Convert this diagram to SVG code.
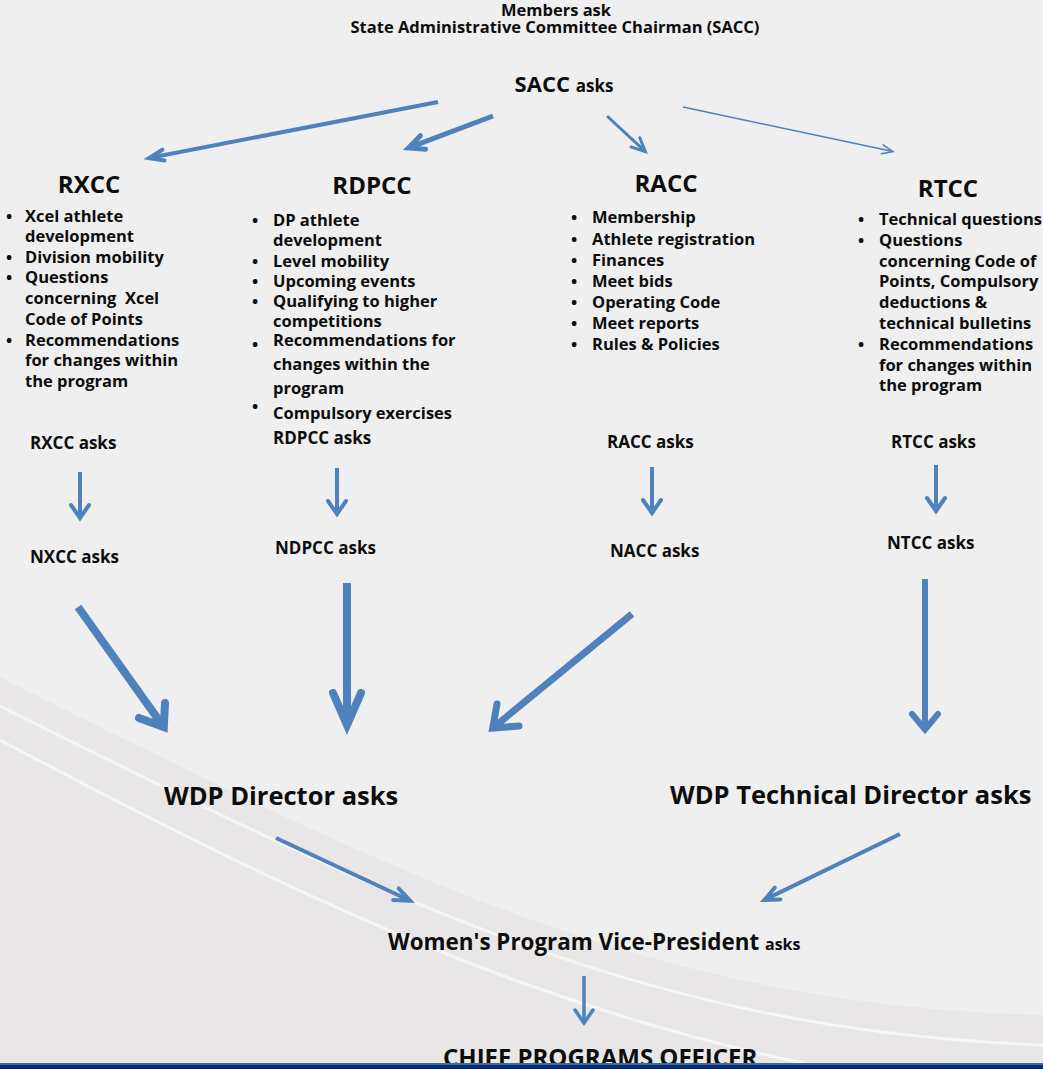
<svg xmlns="http://www.w3.org/2000/svg" width="1043" height="1069" viewBox="0 0 1043 1069">
<style>
text{font-family:"Open Sans","Liberation Sans",sans-serif;font-weight:700;fill:#0d0d0d}
.t{font-size:16.5px;text-anchor:middle}
.h{font-size:24px;text-anchor:middle}
.b{font-size:16.5px}
.d{font-size:16.5px;text-anchor:middle}
.a{font-size:17px}
.w{font-size:25.5px}
.arr{fill:none;stroke:#4f81bd;stroke-linejoin:miter;stroke-linecap:round;stroke-miterlimit:10}
.ln{fill:none;stroke:#4f81bd;stroke-linecap:butt}
.wl{fill:none;stroke:#f6f6f6;stroke-width:3}
</style>
<rect width="1043" height="1069" fill="#efefef"/>
<path d="M0,677 C400,877 650,1005 1043,1015 L1043,1069 L0,1069 Z" fill="#e8e6e7"/>
<path class="wl" d="M0,706 C400,906 650,1030 1043,1045"/>
<path class="wl" d="M0,740 C380,942 650,1060 1043,1100"/>

<g id="members">
<text class="t" x="556" y="16">Members ask</text>
<text class="t" x="555" y="33">State Administrative Committee Chairman (SACC)</text>
</g>
<g id="sacc"><text x="564" y="92" text-anchor="middle" style="font-size:22px">SACC <tspan style="font-size:17px">asks</tspan></text></g>

<g id="rxcc">
<text class="h" x="89" y="193">RXCC</text>
<text class="d" x="9" y="222">•</text><text class="b" x="25" y="222">Xcel athlete</text>
<text class="b" x="25" y="242">development</text>
<text class="d" x="9" y="263">•</text><text class="b" x="25" y="263">Division mobility</text>
<text class="d" x="9" y="283">•</text><text class="b" x="25" y="283">Questions</text>
<text class="b" x="25" y="304" xml:space="preserve">concerning  Xcel</text>
<text class="b" x="25" y="325">Code of Points</text>
<text class="d" x="9" y="346">•</text><text class="b" x="25" y="346">Recommendations</text>
<text class="b" x="25" y="366">for changes within</text>
<text class="b" x="25" y="387">the program</text>
</g>

<g id="rdpcc">
<text class="h" x="372" y="194">RDPCC</text>
<text class="d" x="255" y="226">•</text><text class="b" x="273" y="226">DP athlete</text>
<text class="b" x="273" y="246">development</text>
<text class="d" x="255" y="267">•</text><text class="b" x="273" y="267">Level mobility</text>
<text class="d" x="255" y="287">•</text><text class="b" x="273" y="287">Upcoming events</text>
<text class="d" x="255" y="307">•</text><text class="b" x="273" y="307">Qualifying to higher</text>
<text class="b" x="273" y="327">competitions</text>
<text class="d" x="255" y="350">•</text><text class="b" x="273" y="346">Recommendations for</text>
<text class="b" x="273" y="370">changes within the</text>
<text class="b" x="273" y="394">program</text>
<text class="d" x="255" y="412">•</text><text class="b" x="273" y="419">Compulsory exercises</text>
</g>

<g id="racc">
<text class="h" x="666" y="192">RACC</text>
<text class="d" x="574" y="223">•</text><text class="b" x="592" y="223">Membership</text>
<text class="d" x="574" y="245">•</text><text class="b" x="592" y="245">Athlete registration</text>
<text class="d" x="574" y="266">•</text><text class="b" x="592" y="266">Finances</text>
<text class="d" x="574" y="287">•</text><text class="b" x="592" y="287">Meet bids</text>
<text class="d" x="574" y="308">•</text><text class="b" x="592" y="308">Operating Code</text>
<text class="d" x="574" y="329">•</text><text class="b" x="592" y="329">Meet reports</text>
<text class="d" x="574" y="350">•</text><text class="b" x="592" y="350">Rules &amp; Policies</text>
</g>

<g id="rtcc">
<text class="h" x="948" y="197">RTCC</text>
<text class="d" x="861" y="225">•</text><text class="b" x="879" y="225">Technical questions</text>
<text class="d" x="861" y="246">•</text><text class="b" x="879" y="246">Questions</text>
<text class="b" x="879" y="267">concerning Code of</text>
<text class="b" x="879" y="287">Points, Compulsory</text>
<text class="b" x="879" y="308">deductions &amp;</text>
<text class="b" x="879" y="329">technical bulletins</text>
<text class="d" x="861" y="350">•</text><text class="b" x="879" y="350">Recommendations</text>
<text class="b" x="879" y="371">for changes within</text>
<text class="b" x="879" y="391">the program</text>
</g>

<g id="rxcc-asks"><text class="a" x="30" y="449">RXCC asks</text></g>
<g id="rdpcc-asks"><text class="a" x="273" y="444">RDPCC asks</text></g>
<g id="racc-asks"><text class="a" x="607" y="448">RACC asks</text></g>
<g id="rtcc-asks"><text class="a" x="891" y="448">RTCC asks</text></g>
<g id="nxcc-asks"><text class="a" x="30" y="563">NXCC asks</text></g>
<g id="ndpcc-asks"><text class="a" x="275" y="554">NDPCC asks</text></g>
<g id="nacc-asks"><text class="a" x="610" y="557">NACC asks</text></g>
<g id="ntcc-asks"><text class="a" x="887" y="549">NTCC asks</text></g>

<g id="wdp-director"><text class="w" x="164" y="805">WDP Director asks</text></g>
<g id="wdp-technical-director"><text class="w" x="670" y="804">WDP Technical Director asks</text></g>
<g id="womens-vp"><text x="388" y="950" style="font-size:22.4px">Women's Program Vice-President <tspan style="font-size:16px">asks</tspan></text></g>
<g id="cpo"><text x="443" y="1066" style="font-size:24px">CHIEF PROGRAMS OFFICER</text></g>

<g id="connectors">
<path class="ln" stroke-width="4" d="M438,102 L149,158"/>
<path class="arr" stroke-width="4" d="M162.4,149.7 L149,158 L164.5,160.4"/>
<path class="ln" stroke-width="5" d="M493,116 L408.5,147.9"/>
<path class="arr" stroke-width="5" d="M420.4,135.7 L408.5,147.9 L425.5,149.2"/>
<path class="ln" stroke-width="3" d="M607,116 L645.4,151.6"/>
<path class="arr" stroke-width="3" d="M631.1,147 L645.4,151.6 L639.8,137.7"/>
<path class="ln" stroke-width="1.5" d="M683,107 L893,151.6"/>
<path class="arr" stroke-width="1.5" d="M881.2,153.7 L893,151.6 L883.1,144.9"/>

<path class="ln" stroke-width="4" d="M80,472 L80,518"/>
<path class="arr" stroke-width="4" d="M71,505 L80,518 L89,505"/>
<path class="ln" stroke-width="4" d="M337,468 L337,514"/>
<path class="arr" stroke-width="4" d="M328,501 L337,514 L346,501"/>
<path class="ln" stroke-width="4" d="M652,467 L652,513"/>
<path class="arr" stroke-width="4" d="M643,500 L652,513 L661,500"/>
<path class="ln" stroke-width="4" d="M936,465 L936,511"/>
<path class="arr" stroke-width="4" d="M927,498 L936,511 L945,498"/>

<path class="ln" stroke-width="8" d="M78,607 L163.8,727.1"/>
<path class="arr" stroke-width="8" d="M139,718 L163.8,727.1 L165,703"/>
<path class="ln" stroke-width="8" d="M347,583 L347,725"/>
<path class="arr" stroke-width="8" d="M333,693 L347,725 L361,693"/>
<path class="ln" stroke-width="7" d="M632,614 L492.7,728.1"/>
<path class="arr" stroke-width="7" d="M497,704 L492.7,728.1 L519,726"/>
<path class="ln" stroke-width="6" d="M925,579 L925,729.5"/>
<path class="arr" stroke-width="6" d="M912,714 L925,729.5 L938,714"/>

<path class="ln" stroke-width="4" d="M276,838 L410.2,900.8"/>
<path class="arr" stroke-width="4" d="M393.2,899.9 L410.2,900.8 L398.6,888.4"/>
<path class="ln" stroke-width="4" d="M900,834 L764.4,899.9"/>
<path class="arr" stroke-width="4" d="M780.4,899.4 L764.4,899.9 L774.7,887.7"/>
<path class="ln" stroke-width="3.5" d="M584,976 L584,1023"/>
<path class="arr" stroke-width="3.5" d="M575,1010 L584,1023 L593,1010"/>
</g>

<rect x="0" y="1063" width="1043" height="2" fill="#41689f"/>
<rect x="0" y="1065" width="1043" height="4" fill="#0c2a66"/>
</svg>
